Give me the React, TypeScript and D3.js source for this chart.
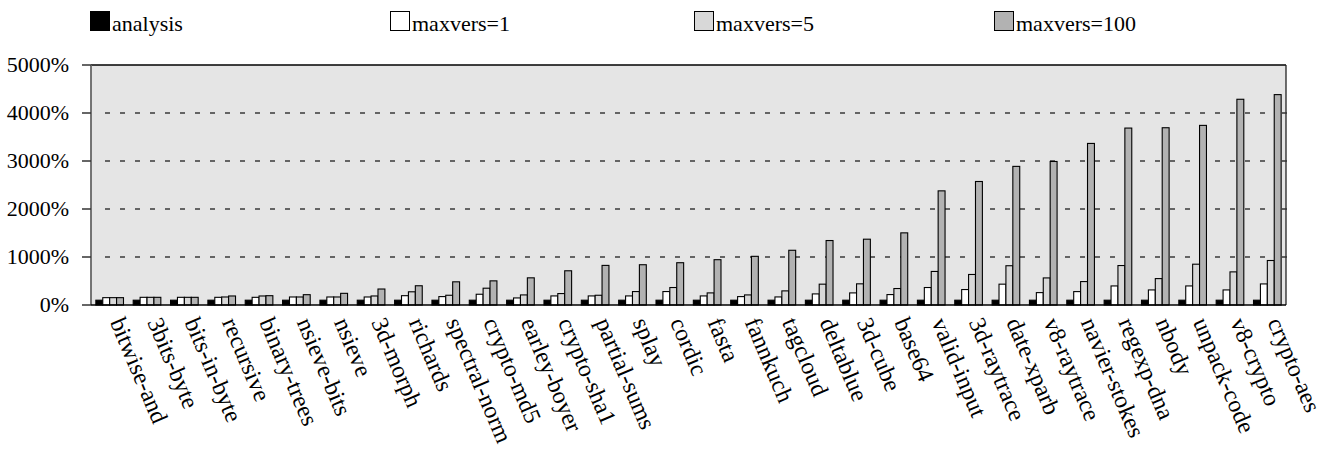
import React from "react";
import * as d3 from "d3";

const categories = [
  "bitwise-and", "3bits-byte", "bits-in-byte", "recursive", "binary-trees", "nsieve-bits",
  "nsieve", "3d-morph", "richards", "spectral-norm", "crypto-md5", "earley-boyer",
  "crypto-sha1", "partial-sums", "splay", "cordic", "fasta", "fannkuch", "tagcloud",
  "deltablue", "3d-cube", "base64", "valid-input", "3d-raytrace", "date-xparb",
  "v8-raytrace", "navier-stokes", "regexp-dna", "nbody", "unpack-code", "v8-crypto", "crypto-aes",
];

const analysis = [
  100, 100, 100, 100, 100, 100, 100, 100, 100, 100, 100, 100, 100, 100, 100, 100,
  100, 100, 100, 100, 100, 100, 100, 100, 100, 100, 100, 100, 100, 100, 100, 100,
];
const maxvers1 = [
  153, 160, 160, 160, 160, 167, 167, 167, 194, 175, 224, 147, 189, 189, 189, 280,
  189, 175, 168, 231, 252, 217, 364, 322, 434, 258, 279, 397, 314, 397, 314, 439,
];
const maxvers5 = [
  153, 160, 160, 167, 188, 167, 167, 188, 275, 203, 350, 210, 238, 203, 280, 364,
  252, 210, 294, 434, 441, 343, 699, 636, 818, 564, 488, 822, 550, 850, 690, 927,
];
const maxvers100 = [
  153, 160, 160, 188, 194, 215, 243, 333, 401, 483, 503, 566, 713, 825, 839, 881,
  944, 1014, 1140, 1343, 1371, 1503, 2378, 2573, 2888, 2990, 3366, 3686, 3693, 3742, 4286, 4383,
];

const seriesNames = ["analysis", "maxvers=1", "maxvers=5", "maxvers=100"];
const seriesColors = ["#000000", "#ffffff", "#d8d8d8", "#b2b2b2"];
const yTicks = [0, 1000, 2000, 3000, 4000, 5000];

const W = 1325;
const H = 449;
const left = 91;
const right = 1286;
const top = 65;
const bottom = 305;
const FONT = "Liberation Serif, Times New Roman, serif";

export default function App() {
  const series = [analysis, maxvers1, maxvers5, maxvers100];
  const x = d3.scaleBand<string>().domain(categories).range([left, right]).paddingInner(0).paddingOuter(0);
  const y = d3.scaleLinear().domain([0, 5000]).range([bottom, top]);
  const band = x.bandwidth();
  const groupW = band * 0.74;
  const inner = d3.scaleBand<number>().domain([0, 1, 2, 3]).range([0, groupW]).padding(0);
  const bw = inner.bandwidth();
  const legendX = [90, 390, 694, 994];

  return (
    <svg width={W} height={H} style={{ position: "absolute", left: 0, top: 0, background: "#fff" }}>
      {/* legend */}
      {seriesNames.map((n, i) => (
        <g key={n}>
          <rect x={legendX[i] + 0.5} y={11.5} width={19} height={19} fill={seriesColors[i]} stroke="#000" strokeWidth={1} />
          <text x={legendX[i] + 22} y={31} fontFamily={FONT} fontSize={22} fill="#000">{n}</text>
        </g>
      ))}

      {/* plot background */}
      <rect x={left} y={top} width={right - left} height={bottom - top} fill="#e5e5e5" />

      {/* grid lines */}
      {yTicks.filter((t) => t > 0 && t < 5000).map((t) => (
        <line key={t} x1={left + 14} x2={right - 4} y1={y(t)} y2={y(t)} stroke="#3a3a3a" strokeWidth={1.6} strokeDasharray="5,10" />
      ))}

      {/* bars */}
      {categories.map((c, ci) => {
        const gx = (x(c) as number) + (band - groupW) / 2;
        return (
          <g key={c}>
            {series.map((s, si) => (
              <rect
                key={si}
                x={gx + (inner(si) as number)}
                y={y(s[ci])}
                width={bw}
                height={bottom - y(s[ci])}
                fill={seriesColors[si]}
                stroke="#000"
                strokeWidth={1.1}
              />
            ))}
          </g>
        );
      })}

      {/* frame */}
      <line x1={left} x2={right} y1={top} y2={top} stroke="#000" strokeWidth={1.3} />
      <line x1={right} x2={right} y1={top} y2={bottom} stroke="#222" strokeWidth={1.3} />
      <line x1={left} x2={left} y1={top} y2={bottom} stroke="#666" strokeWidth={1.8} />
      <line x1={left} x2={right} y1={bottom} y2={bottom} stroke="#000" strokeWidth={1.5} />

      {/* y ticks */}
      {yTicks.map((t) => (
        <g key={t}>
          <line x1={82} x2={left} y1={y(t)} y2={y(t)} stroke="#333" strokeWidth={1.5} />
          {t > 0 && t < 5000 && <line x1={right - 4} x2={right + 1} y1={y(t)} y2={y(t)} stroke="#333" strokeWidth={1.5} />}
          <text x={69} y={y(t) + 7} textAnchor="end" fontFamily={FONT} fontSize={22} fill="#000">
            {t + "%"}
          </text>
        </g>
      ))}

      {/* category labels */}
      {categories.map((c) => {
        const cx = (x(c) as number) + band / 2;
        return (
          <text key={c} transform={`translate(${cx},${322}) rotate(67)`} fontFamily={FONT} fontSize={24} fill="#000">
            {c}
          </text>
        );
      })}
    </svg>
  );
}
